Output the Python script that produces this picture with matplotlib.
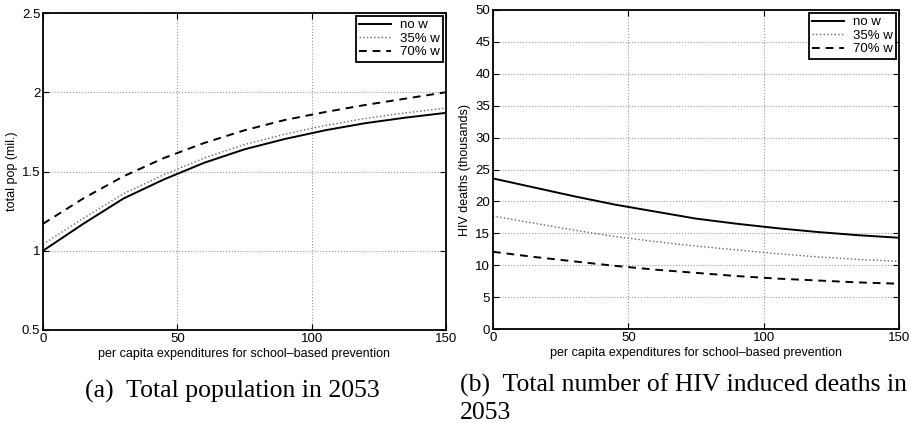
import numpy as np
import matplotlib.pyplot as plt

plt.rcParams['font.family'] = ['Liberation Sans', 'DejaVu Sans']

# expenditure levels
x = [0, 15, 30, 45, 60, 75, 90, 105, 120, 135, 150]

# total population in 2053 (mil.)
pop_no = [1.00, 1.17, 1.33, 1.45, 1.555, 1.64, 1.705, 1.76, 1.805, 1.84, 1.87]
pop_35 = [1.04, 1.205, 1.36, 1.48, 1.585, 1.67, 1.735, 1.79, 1.835, 1.87, 1.90]
pop_70 = [1.17, 1.33, 1.47, 1.585, 1.68, 1.76, 1.825, 1.875, 1.92, 1.96, 2.00]

# HIV deaths in 2053 (thousands)
dth_no = [23.6, 22.2, 20.8, 19.5, 18.4, 17.3, 16.5, 15.8, 15.2, 14.7, 14.3]
dth_35 = [17.7, 16.6, 15.5, 14.5, 13.7, 13.0, 12.4, 11.8, 11.3, 10.9, 10.6]
dth_70 = [12.1, 11.3, 10.6, 9.9, 9.3, 8.8, 8.3, 7.9, 7.6, 7.3, 7.1]

labels = ['no w', '35% w', '70% w']
xlab = 'per capita expenditures for school\u2013based prevention'

fig = plt.figure(figsize=(9.12, 4.37), dpi=100)
ax1 = fig.add_axes([43/912, 1-330/437, 403/912, 317/437])
ax2 = fig.add_axes([493/912, 1-329/437, 406/912, 319/437])


def style(ax, ylim, yticks, ylabel, series):
    ax.plot(x, series[0], '-', color='black', lw=1.4, label=labels[0])
    ax.plot(x, series[1], ':', color='#666666', lw=1.0, label=labels[1])
    ax.plot(x, series[2], '--', color='black', lw=1.4, dashes=(4, 3), label=labels[2])
    ax.set_xlim(0, 150)
    ax.set_ylim(*ylim)
    ax.set_xticks([0, 50, 100, 150])
    ax.set_yticks(yticks)
    ax.set_yticklabels([('%g' % t) for t in yticks])
    ax.grid(True, linestyle=':', color='#999999', lw=0.8)
    ax.tick_params(direction='in', top=True, right=True, labelsize=9.5, length=4, pad=2)
    for s in ax.spines.values():
        s.set_linewidth(1.3)
    ax.set_xlabel(xlab, fontsize=9, labelpad=2)
    ax.set_ylabel(ylabel, fontsize=9, labelpad=3)
    leg = ax.legend(loc='upper right', fontsize=9.5, fancybox=False, framealpha=1,
                    borderpad=0.25, handlelength=2.4, labelspacing=0.1,
                    borderaxespad=0.2, handletextpad=0.7)
    leg.get_frame().set_edgecolor('black')
    leg.get_frame().set_linewidth(1.3)


style(ax1, (0.5, 2.5), [0.5, 1, 1.5, 2, 2.5], 'total pop (mil.)', [pop_no, pop_35, pop_70])
style(ax2, (0, 50), list(range(0, 55, 5)), 'HIV deaths (thousands)', [dth_no, dth_35, dth_70])

fig.text(232/912, 1-391/437, '(a)  Total population in 2053', family='Liberation Serif',
         fontsize=18.5, ha='center', va='center')
fig.text(460/912, 1-385/437, '(b)  Total number of HIV induced deaths in', family='Liberation Serif',
         fontsize=18.5, ha='left', va='center')
fig.text(460/912, 1-413/437, '2053', family='Liberation Serif',
         fontsize=18.5, ha='left', va='center')

fig.savefig('out.png', dpi=100)
